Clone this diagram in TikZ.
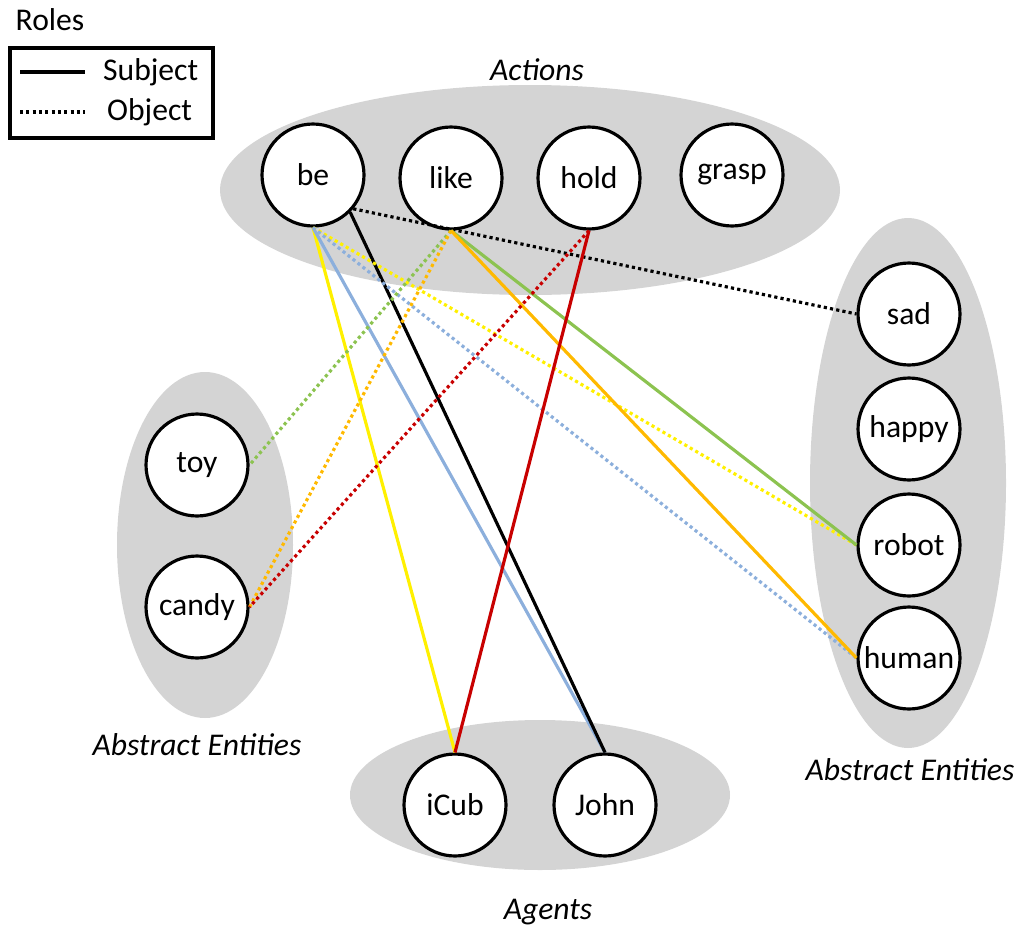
\documentclass[tikz,border=0pt]{standalone}
\usepackage{fontspec}
\setmainfont{Carlito}
\begin{document}
\begin{tikzpicture}[x=0.02cm,y=-0.02cm,
  ent/.style={circle,draw=black,line width=1.8pt,fill=white,minimum size=2.04cm,inner sep=0pt,font=\fontsize{18}{21}\selectfont},
  lab/.style={font=\fontsize{18}{21}\selectfont\itshape},
  con/.style={line width=1.8pt},
  dot/.style={line width=1.8pt,dash pattern=on 1.8pt off 1.8pt}]
\definecolor{cblue}{RGB}{140,175,220}
\definecolor{cgreen}{RGB}{140,195,80}
\definecolor{cred}{RGB}{200,0,0}
\definecolor{camber}{RGB}{255,185,0}
\definecolor{cyel}{RGB}{255,240,0}
\useasboundingbox (0,0) rectangle (1024,933);
\fill[black!17] (530,190) ellipse [x radius=310,y radius=105];
\fill[black!17] (908,483) ellipse [x radius=98,y radius=265];
\fill[black!17] (205,545) ellipse [x radius=88,y radius=173];
\fill[black!17] (540,795) ellipse [x radius=190,y radius=75];
\node[lab] (tA) at (537,70) {Actions};
\node[lab] (tL) at (197,745) {Abstract Entities};
\node[lab] (tR) at (910,770) {Abstract Entities};
\node[lab] (tG) at (548,912) {Agents};
\node[font=\fontsize{18}{21}\selectfont] (roles) at (50,20) {Roles};
\draw[line width=1.8pt] (10,48) rectangle (213,138);
\coordinate (s1) at (20,72); \coordinate (s2) at (85,72);
\coordinate (o1) at (20,112); \coordinate (o2) at (85,112);
\draw[con] (s1) -- (s2);
\draw[dot] (o1) -- (o2);
\node[font=\fontsize{18}{21}\selectfont,anchor=west] (subj) at (97,72) {Subject};
\node[font=\fontsize{18}{21}\selectfont,anchor=west] (obj) at (101,112) {Object};
\node[ent] (be) at (313,175) {be};
\node[ent] (like) at (451,178) {like};
\node[ent] (hold) at (589,178) {hold};
\node[ent] (grasp) at (732,175) {grasp};
\node[ent] (sad) at (909,314) {sad};
\node[ent] (happy) at (909,429) {happy};
\node[ent] (robot) at (909,545) {robot};
\node[ent] (human) at (909,658) {human};
\node[ent] (toy) at (197,465) {toy};
\node[ent] (candy) at (197,607) {candy};
\node[ent] (icub) at (455,805) {iCub};
\node[ent] (john) at (605,805) {John};
% connectors
\draw[con,cyel] (be.south) -- (icub.north);
\draw[con,cblue] (be.south) -- (john.north);
\draw[con,black] (be.-45) -- (john.north);
\draw[dot,black] (be.-40) -- (sad.west);
\draw[dot,cyel] (be.south) -- (robot.west);
\draw[dot,cblue] (be.south) -- (human.west);
\draw[dot,cgreen] (like.south) -- (toy.east);
\draw[dot,camber] (like.south) -- (candy.east);
\draw[con,cgreen] (like.south) -- (robot.west);
\draw[con,camber] (like.south) -- (human.west);
\draw[con,cred] (hold.south) -- (icub.north);
\draw[dot,cred] (hold.south) -- (candy.east);
\end{tikzpicture}
\end{document}
